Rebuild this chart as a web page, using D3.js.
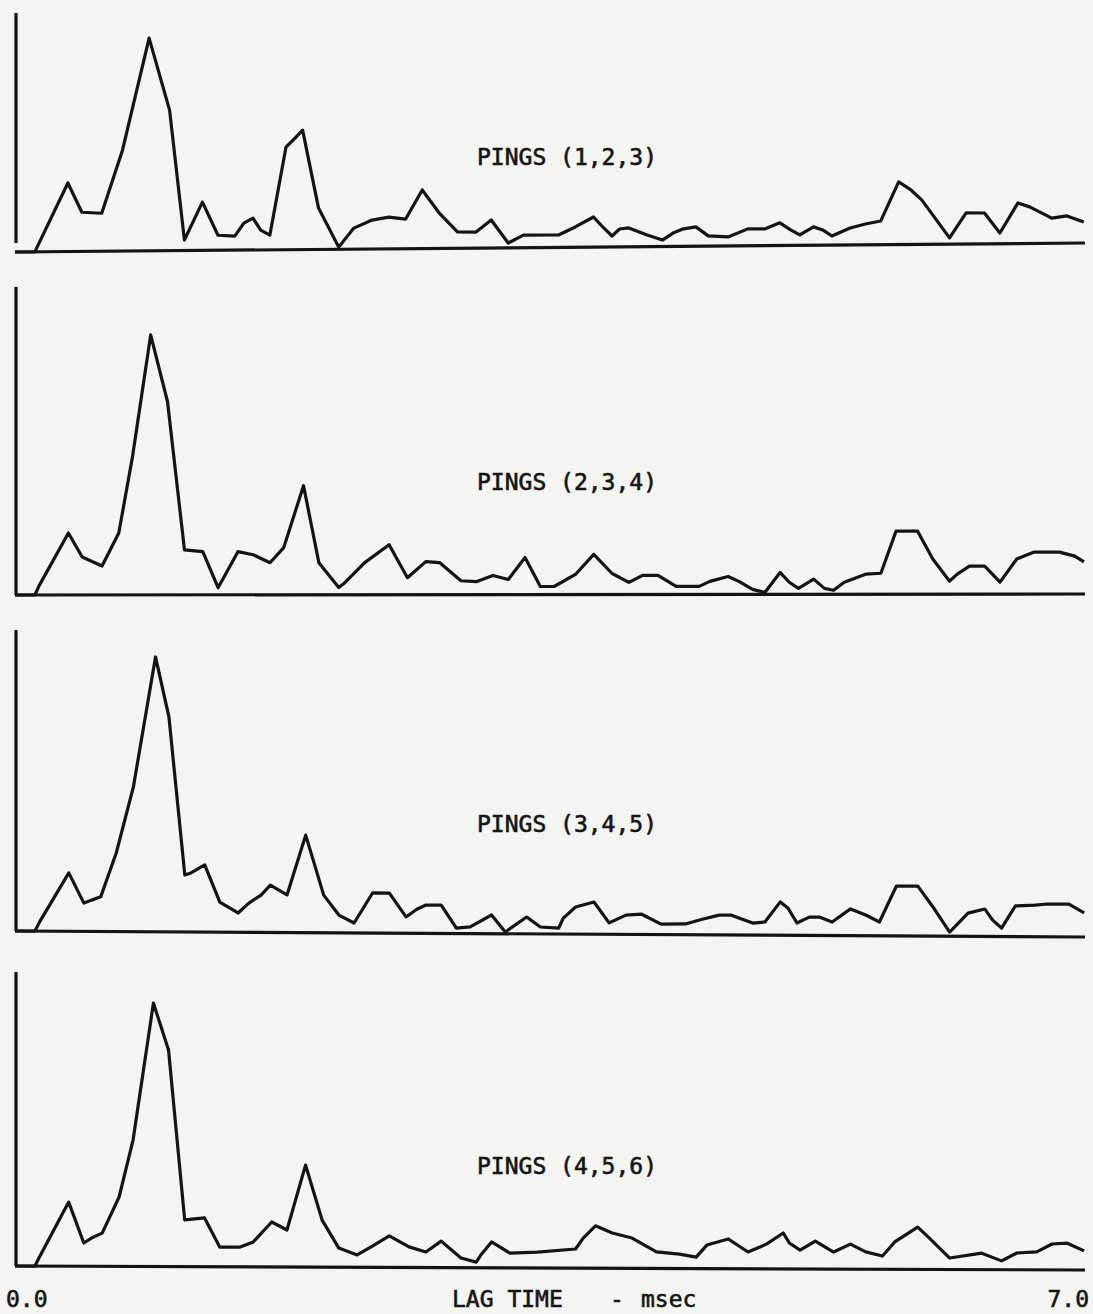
<!DOCTYPE html>
<html>
<head>
<meta charset="utf-8">
<script src="https://cdn.jsdelivr.net/npm/d3@7"></script>
<style>
  html, body { margin: 0; padding: 0; background: #f4f4f1; }
  svg { display: block; }
  text { font-family: "DejaVu Sans Mono", monospace; fill: #141414; stroke: #141414; stroke-width: 0.6px; }
</style>
</head>
<body>
<svg id="chart" width="1093" height="1314"></svg>
<script>
// Correlation traces versus lag time (msec), one per group of three pings.
// Amplitudes are in percent of each panel's vertical axis height.

const panelLabels = ["PINGS (1,2,3)", "PINGS (2,3,4)", "PINGS (3,4,5)", "PINGS (4,5,6)"];

const lag123 = [0, 0.13, 0.35, 0.44, 0.57, 0.71, 0.89, 1.02, 1.11, 1.23, 1.33, 1.44, 1.50, 1.56, 1.61, 1.67, 1.78, 1.84, 1.89, 1.99, 2.12, 2.22, 2.34, 2.45, 2.56, 2.67, 2.78, 2.90, 3.02, 3.12, 3.23, 3.33, 3.56, 3.67, 3.79, 3.85, 3.91, 3.96, 4.02, 4.14, 4.24, 4.31, 4.37, 4.46, 4.54, 4.67, 4.80, 4.91, 5.01, 5.08, 5.14, 5.23, 5.29, 5.35, 5.47, 5.57, 5.67, 5.79, 5.87, 5.94, 6.12, 6.23, 6.35, 6.45, 6.57, 6.65, 6.79, 6.89, 7.00];
const amp123 = [0, 0, 28.7, 16.4, 15.9, 42.3, 89.0, 58.8, 4.4, 20.2, 6.3, 5.9, 11.3, 13.3, 8.3, 6.2, 42.9, 46.7, 50.0, 17.3, 0.9, 8.8, 12.1, 13.3, 12.4, 24.5, 14.8, 6.8, 6.7, 11.7, 2.0, 5.3, 5.2, 8.5, 12.6, 8.4, 4.6, 7.5, 7.9, 4.9, 2.7, 5.6, 7.2, 8.1, 4.3, 3.8, 7.1, 7.0, 9.5, 6.5, 4.4, 7.7, 6.4, 3.8, 7.1, 8.7, 9.9, 26.2, 22.8, 18.6, 2.6, 13.0, 12.9, 4.5, 17.0, 15.2, 10.5, 11.4, 8.8];

const lag234 = [0, 0.13, 0.16, 0.35, 0.44, 0.57, 0.68, 0.77, 0.89, 1.00, 1.11, 1.23, 1.33, 1.46, 1.56, 1.67, 1.76, 1.89, 1.99, 2.12, 2.16, 2.29, 2.45, 2.57, 2.69, 2.78, 2.92, 3.02, 3.13, 3.23, 3.34, 3.44, 3.53, 3.67, 3.79, 3.91, 4.02, 4.11, 4.21, 4.33, 4.48, 4.55, 4.67, 4.74, 4.83, 4.91, 5.01, 5.07, 5.13, 5.23, 5.30, 5.36, 5.43, 5.57, 5.67, 5.77, 5.91, 6.01, 6.12, 6.17, 6.25, 6.35, 6.45, 6.56, 6.67, 6.84, 6.94, 7.00];
const amp234 = [0, 0, 3.2, 20.1, 12.3, 9.4, 20.1, 44.8, 84.4, 62.7, 14.6, 14.0, 2.3, 14.0, 13.0, 10.4, 15.3, 35.4, 10.4, 2.3, 3.9, 10.4, 16.2, 5.5, 10.7, 10.4, 4.5, 4.2, 6.2, 4.9, 12.0, 2.6, 2.6, 6.5, 13.0, 6.8, 3.9, 6.2, 6.2, 2.6, 2.6, 4.2, 5.8, 4.2, 1.6, 0.6, 7.1, 3.9, 1.9, 4.9, 1.9, 1.3, 3.9, 6.5, 6.8, 20.5, 20.5, 11.4, 4.2, 6.5, 9.1, 9.1, 3.9, 11.4, 13.6, 13.6, 12.3, 10.4];

const lag345 = [0, 0.13, 0.16, 0.35, 0.45, 0.50, 0.56, 0.66, 0.77, 0.91, 1.00, 1.11, 1.15, 1.24, 1.34, 1.46, 1.53, 1.61, 1.67, 1.78, 1.90, 2.02, 2.12, 2.22, 2.34, 2.45, 2.56, 2.63, 2.69, 2.79, 2.89, 2.98, 3.12, 3.21, 3.35, 3.44, 3.56, 3.59, 3.67, 3.79, 3.89, 4.00, 4.10, 4.23, 4.39, 4.50, 4.61, 4.69, 4.83, 4.91, 5.01, 5.06, 5.12, 5.20, 5.27, 5.35, 5.47, 5.57, 5.66, 5.77, 5.91, 6.01, 6.12, 6.24, 6.35, 6.40, 6.46, 6.55, 6.68, 6.76, 6.90, 7.00];
const amp345 = [0, 0, 3.0, 19.4, 9.4, 10.4, 11.5, 26.1, 48.1, 91.3, 71.4, 18.9, 19.6, 22.3, 10.0, 6.4, 9.7, 12.4, 15.7, 12.5, 32.4, 12.5, 5.9, 3.3, 13.3, 13.3, 5.4, 8.0, 9.4, 9.4, 1.8, 2.2, 6.2, 0.6, 5.6, 2.3, 2.0, 5.3, 9.0, 10.7, 3.8, 6.4, 6.8, 3.5, 3.6, 5.2, 6.6, 6.6, 4.0, 4.4, 11.1, 9.1, 4.1, 6.1, 6.1, 4.5, 8.9, 6.9, 4.6, 16.6, 16.6, 9.7, 1.4, 7.7, 9.1, 5.5, 2.8, 10.2, 10.5, 10.9, 10.9, 8.0];

const lag456 = [0, 0.13, 0.16, 0.35, 0.45, 0.50, 0.57, 0.68, 0.77, 0.90, 1.00, 1.11, 1.24, 1.34, 1.47, 1.56, 1.68, 1.78, 1.90, 2.01, 2.12, 2.24, 2.34, 2.45, 2.58, 2.69, 2.79, 2.92, 3.02, 3.05, 3.12, 3.24, 3.42, 3.67, 3.72, 3.80, 3.91, 4.04, 4.20, 4.35, 4.46, 4.53, 4.67, 4.80, 4.92, 5.03, 5.07, 5.14, 5.24, 5.36, 5.47, 5.57, 5.68, 5.76, 5.91, 5.98, 6.12, 6.33, 6.46, 6.56, 6.69, 6.79, 6.89, 7.00];
const amp456 = [0, 0, 3.1, 21.8, 7.9, 9.6, 11.3, 23.6, 43.0, 89.6, 73.7, 15.9, 16.6, 6.7, 6.7, 8.5, 15.3, 12.6, 34.7, 16.0, 6.5, 4.2, 7.2, 10.7, 7.0, 5.3, 9.0, 3.3, 1.9, 4.3, 8.8, 5.0, 5.4, 6.5, 10.2, 14.4, 12.0, 10.3, 5.6, 4.9, 3.9, 8.0, 10.1, 5.7, 8.4, 12.2, 8.8, 6.4, 9.5, 5.8, 8.5, 5.9, 4.5, 9.3, 14.4, 11.0, 3.9, 5.6, 3.0, 5.7, 6.1, 8.8, 9.1, 6.5];

const lagTicks = ["0.0", "7.0"];
const axisTitle = ["LAG TIME", "-", "msec"];

const lagSeries = [lag123, lag234, lag345, lag456];
const ampSeries = [amp123, amp234, amp345, amp456];

// Panel geometry: zero line height at the left end, axis top, slight plotter skew
// (vertical drift of the zero line across the width) and the gap under the axis.
const panelBase = [252, 595, 931, 1266];
const panelTop  = [13, 287, 630, 972];
const panelSkew = [-9, -1, 6, 4];
const axisGap   = [9, 0, 0, 0];
const labelX = 477;
const labelBaseline = [165, 490, 832, 1174];

const ink = "#141414";
const lineWidth = 3.2;
const svg = d3.select("#chart");

const x = d3.scaleLinear().domain([0, 7]).range([15, 1084]);
const plotWidth = x.range()[1] - x.range()[0];

lagSeries.forEach((lags, i) => {
  const y = d3.scaleLinear().domain([0, 100]).range([panelBase[i], panelTop[i]]);
  const angle = Math.atan2(panelSkew[i], plotWidth) * 180 / Math.PI;
  const pts = lags.map((t, k) => [t, ampSeries[i][k]]);

  // vertical axis
  svg.append("line")
    .attr("x1", x(0) + 1).attr("x2", x(0) + 1)
    .attr("y1", y(100)).attr("y2", y(0) - axisGap[i])
    .attr("stroke", ink).attr("stroke-width", lineWidth);

  const g = svg.append("g")
    .attr("transform", `rotate(${angle}, ${x(0)}, ${panelBase[i]})`);

  // zero line
  g.append("line")
    .attr("x1", x(0)).attr("x2", x(7) + 1)
    .attr("y1", y(0)).attr("y2", y(0))
    .attr("stroke", ink).attr("stroke-width", lineWidth);

  // trace
  g.append("path")
    .datum(pts)
    .attr("fill", "none")
    .attr("stroke", ink)
    .attr("stroke-width", lineWidth)
    .attr("stroke-linejoin", "round")
    .attr("d", d3.line().x(d => x(d[0])).y(d => y(d[1])));

  svg.append("text")
    .attr("x", labelX).attr("y", labelBaseline[i])
    .attr("font-size", 23)
    .text(panelLabels[i]);
});

// lag-time end labels and axis title
const bottomBaseline = 1307;
svg.append("text").attr("x", 6).attr("y", bottomBaseline)
  .attr("font-size", 23).text(lagTicks[0]);
svg.append("text").attr("x", 1089).attr("y", bottomBaseline)
  .attr("font-size", 23).attr("text-anchor", "end").text(lagTicks[1]);

const title = svg.append("text").attr("y", bottomBaseline).attr("font-size", 23);
title.append("tspan").attr("x", 452).text(axisTitle[0]);
title.append("tspan").attr("x", 610).text(axisTitle[1]);
title.append("tspan").attr("x", 641).text(axisTitle[2]);
</script>
</body>
</html>
